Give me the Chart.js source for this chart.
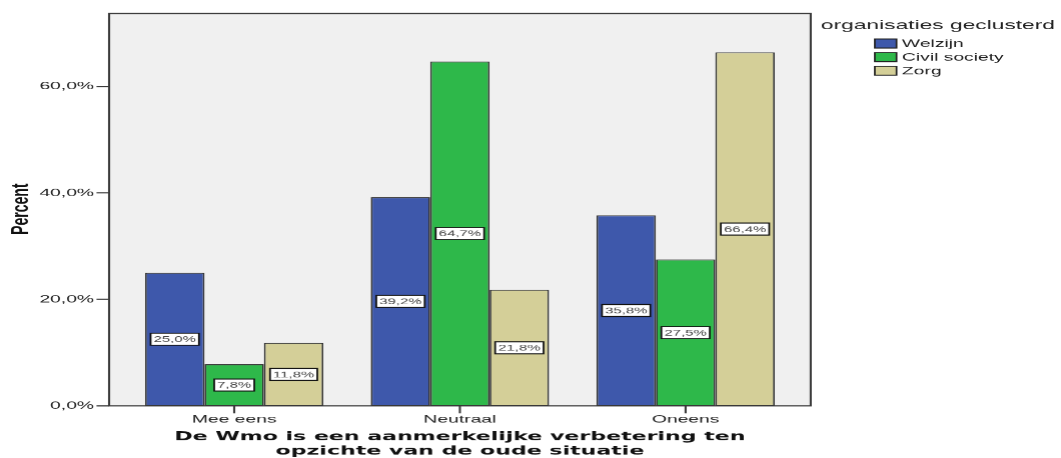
<!DOCTYPE html>
<html>
<head>
<meta charset="utf-8">
<script src="https://cdn.jsdelivr.net/npm/chart.js@4.4.1/dist/chart.umd.min.js"></script>
<style>
  html, body { margin: 0; padding: 0; background: #fff; overflow: hidden; }
  canvas { display: block; }
</style>
</head>
<body>
<!-- drawn narrow and stretched sideways, like the original SPSS export -->
<canvas id="chart" width="606" height="458" style="width:1061px;height:458px"></canvas>
<script>
const categories = ["Mee eens", "Neutraal", "Oneens"];
const seriesNames = ["Welzijn", "Civil society", "Zorg"];
const welzijn = [25.0, 39.2, 35.8];
const civilSociety = [7.8, 64.7, 27.5];
const zorg = [11.8, 21.8, 66.4];
const yTicks = [0, 20, 40, 60];
const yTitle = "Percent";
const xTitle = ["De Wmo is een aanmerkelijke verbetering ten", "opzichte van de oude situatie"];
const legendTitle = "organisaties geclusterd";

const colors = ["#3e58ab", "#2eb84a", "#d4cf98"];
const FONT = '"Liberation Sans", Arial, sans-serif';
const FRAME_PAD = 7; // gap between plot frame and first/last category

const fmt = (v) => v.toFixed(1).replace(".", ",") + "%";

const spssPlugin = {
  id: "spss",
  beforeDraw(chart) {
    const { ctx, chartArea: a } = chart;
    ctx.save();
    ctx.fillStyle = "#f0f0f0";
    ctx.fillRect(a.left - FRAME_PAD, a.top, a.right - a.left + 2 * FRAME_PAD, a.bottom - a.top);
    ctx.restore();
  },
  afterDatasetsDraw(chart) {
    const { ctx, chartArea: a } = chart;
    const yScale = chart.scales.y;
    const xScale = chart.scales.x;
    const left = a.left - FRAME_PAD;
    ctx.save();
    ctx.strokeStyle = "#3a3a3a";
    ctx.lineWidth = 1.2;
    ctx.strokeRect(left, a.top, a.right - a.left + 2 * FRAME_PAD, a.bottom - a.top);

    // tick marks
    ctx.beginPath();
    yTicks.forEach((t) => {
      const y = yScale.getPixelForValue(t);
      ctx.moveTo(left - 7.2, y);
      ctx.lineTo(left, y);
    });
    categories.forEach((c, i) => {
      const x = xScale.getPixelForValue(i);
      ctx.moveTo(x, a.bottom);
      ctx.lineTo(x, a.bottom + 7.5);
    });
    ctx.stroke();

    // value boxes in the middle of each bar
    ctx.font = "8.5px " + FONT;
    ctx.textAlign = "center";
    ctx.textBaseline = "middle";
    chart.data.datasets.forEach((ds, di) => {
      chart.getDatasetMeta(di).data.forEach((bar, i) => {
        const txt = fmt(ds.data[i]);
        const w = ctx.measureText(txt).width + 3.5;
        const h = 12;
        const cy = (bar.y + bar.base) / 2;
        ctx.fillStyle = "#fff";
        ctx.fillRect(bar.x - w / 2, cy - h / 2, w, h);
        ctx.strokeStyle = "#111";
        ctx.lineWidth = 1;
        ctx.strokeRect(bar.x - w / 2, cy - h / 2, w, h);
        ctx.fillStyle = "#444";
        ctx.fillText(txt, bar.x, cy + 0.5);
      });
    });
    ctx.restore();
  },
  afterDraw(chart) {
    const { ctx, chartArea: a } = chart;
    ctx.save();
    ctx.fillStyle = "#111";
    ctx.textBaseline = "middle";

    // axis titles
    ctx.font = 'bold 12.6px "DejaVu Sans", Verdana, sans-serif';
    ctx.textAlign = "center";
    const cx = (a.left + a.right) / 2;
    ctx.fillText(xTitle[0], cx, 437);
    ctx.fillText(xTitle[1], cx, 451);

    ctx.save();
    ctx.translate(12, 209);
    ctx.rotate(-Math.PI / 2);
    ctx.font = "bold 14px " + FONT;
    ctx.fillText(yTitle, 0, 0);
    ctx.restore();

    // legend
    ctx.textAlign = "left";
    ctx.fillStyle = "#222";
    ctx.font = "13px " + FONT;
    ctx.fillText(legendTitle, 468.6, 25.5);
    ctx.font = "11px " + FONT;
    chart.data.datasets.forEach((ds, i) => {
      const y = 39 + i * 13.6;
      ctx.fillStyle = ds.backgroundColor;
      ctx.fillRect(499.4, y, 12.4, 9);
      ctx.strokeStyle = "#222";
      ctx.lineWidth = 1;
      ctx.strokeRect(499.4, y, 12.4, 9);
      ctx.fillStyle = "#222";
      ctx.fillText(ds.label, 514.9, y + 4.8);
    });
    ctx.restore();
  }
};

const ctx = document.getElementById("chart").getContext("2d");

new Chart(ctx, {
  type: "bar",
  data: {
    labels: categories,
    datasets: [welzijn, civilSociety, zorg].map((vals, i) => ({
      label: seriesNames[i],
      data: vals,
      backgroundColor: colors[i],
      borderColor: "#333",
      borderWidth: 1,
      borderSkipped: false,
      categoryPercentage: 0.79,
      barPercentage: 1.0,
    })),
  },
  options: {
    responsive: false,
    animation: false,
    devicePixelRatio: 1.75,
    layout: { padding: { top: 13.5, right: 150.2, left: 0, bottom: 0 } },
    plugins: { legend: { display: false }, tooltip: { enabled: false } },
    scales: {
      x: {
        grid: { display: false, drawTicks: false },
        border: { display: false },
        ticks: { color: "#222", font: { family: FONT, size: 11 }, padding: 7 },
        afterFit: (scale) => {
          scale.height = 52.5;
          scale.paddingLeft = 0;
          scale.paddingRight = 0;
        },
      },
      y: {
        min: 0,
        max: 73.7,
        grid: { display: false, drawTicks: false },
        border: { display: false },
        ticks: {
          stepSize: 20,
          includeBounds: false,
          color: "#222",
          font: { family: FONT, size: 11 },
          padding: 15.6,
          callback: (v) => (yTicks.includes(v) ? fmt(v) : ""),
        },
        afterFit: (scale) => {
          scale.width = 69.3;
          scale.paddingTop = 0;
          scale.paddingBottom = 0;
        },
      },
    },
  },
  plugins: [spssPlugin],
});
</script>
</body>
</html>
